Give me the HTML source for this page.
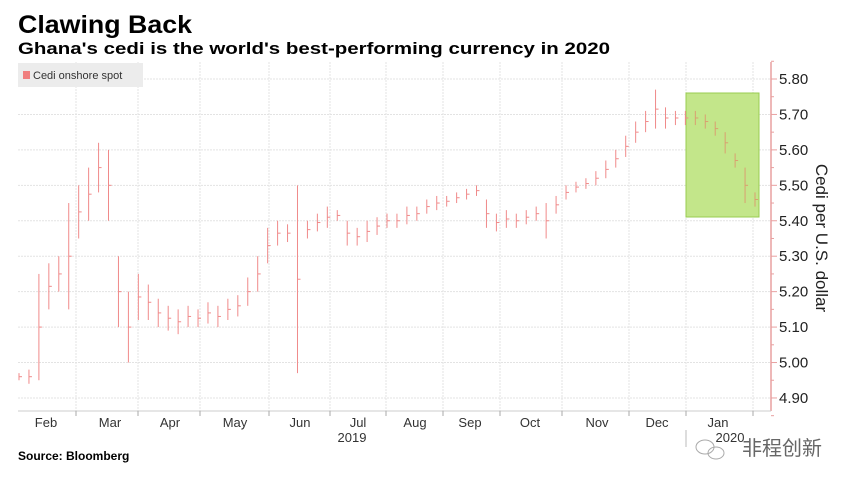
<!DOCTYPE html>
<html><head><meta charset="utf-8"><style>
body{margin:0;background:#fff;width:849px;height:485px;overflow:hidden;font-family:"Liberation Sans","Noto Sans CJK SC",sans-serif}
</style></head><body>
<svg width="849" height="485" xmlns="http://www.w3.org/2000/svg">
<text x="18" y="33" font-size="25" font-weight="bold" fill="#000" textLength="174" lengthAdjust="spacingAndGlyphs">Clawing Back</text>
<text x="18" y="54" font-size="17" font-weight="bold" fill="#000" textLength="592" lengthAdjust="spacingAndGlyphs">Ghana's cedi is the world's best-performing currency in 2020</text>
<g id="grid"></g>
<rect x="686" y="93" width="73" height="124" fill="#c3e68a" stroke="#98cc50"/>
<g id="bars"></g>
<rect x="18" y="63" width="125" height="24" fill="#ececec"/>
<rect x="23" y="71" width="7" height="8" fill="#f07f7f"/>
<text x="33" y="79" font-size="11" fill="#333">Cedi onshore spot</text>
<line x1="771" y1="62" x2="771" y2="411" stroke="#e8a0a0" stroke-width="1.5"/>
<g id="yax"></g>
<line x1="18" y1="411" x2="771" y2="411" stroke="#ccc"/>
<g id="xax"></g>
<text x="352" y="442" font-size="13" fill="#333" text-anchor="middle">2019</text>
<text x="730" y="442" font-size="13" fill="#333" text-anchor="middle">2020</text>
<line x1="686" y1="430" x2="686" y2="447" stroke="#bbb"/>
<text transform="translate(816,238) rotate(90)" font-size="17" fill="#222" text-anchor="middle">Cedi per U.S. dollar</text>
<text x="18" y="460" font-size="12" font-weight="bold" fill="#000">Source: Bloomberg</text>
<g><ellipse cx="705" cy="447" rx="9" ry="7" fill="none" stroke="#aaa"/><ellipse cx="716" cy="453" rx="8" ry="6" fill="none" stroke="#aaa"/>
<text x="742" y="455" font-size="20" fill="#666">非程创新</text></g>
</svg>
<script>
const yTicks=[4.90,5.00,5.10,5.20,5.30,5.40,5.50,5.60,5.70,5.80];
const months=["Feb","Mar","Apr","May","Jun","Jul","Aug","Sep","Oct","Nov","Dec","Jan"];
const monthLabelX=[46,110,170,235,300,358,415,470,530,597,657,718];
const monthGridX=[76,138,200,269,330,386,443,500,562,629,686,753];
const lows=[4.95,4.94,4.95,5.15,5.20,5.15,5.35,5.40,5.48,5.40,5.10,5.00,5.12,5.12,5.10,5.09,5.08,5.10,5.10,5.11,5.10,5.12,5.13,5.16,5.20,5.28,5.33,5.34,4.97,5.35,5.37,5.38,5.40,5.33,5.33,5.34,5.36,5.38,5.38,5.39,5.40,5.42,5.43,5.44,5.45,5.46,5.47,5.38,5.37,5.38,5.38,5.39,5.40,5.35,5.42,5.46,5.48,5.49,5.50,5.52,5.55,5.58,5.62,5.65,5.66,5.66,5.67,5.67,5.67,5.66,5.64,5.59,5.55,5.45,5.44];
const highs=[4.97,4.98,5.25,5.28,5.30,5.45,5.50,5.55,5.62,5.60,5.30,5.20,5.25,5.22,5.18,5.16,5.15,5.16,5.15,5.17,5.16,5.18,5.19,5.24,5.30,5.38,5.40,5.39,5.50,5.40,5.42,5.44,5.43,5.40,5.38,5.40,5.41,5.42,5.42,5.44,5.44,5.46,5.47,5.47,5.48,5.49,5.50,5.46,5.42,5.43,5.42,5.43,5.44,5.45,5.47,5.50,5.51,5.52,5.54,5.57,5.60,5.64,5.68,5.71,5.77,5.72,5.71,5.71,5.71,5.70,5.68,5.65,5.59,5.55,5.48];
const NS="http://www.w3.org/2000/svg";
const y=v=>79+(5.80-v)*354.4;
const x=i=>19+i*(736/(lows.length-1));
function mk(p,t,a){const e=document.createElementNS(NS,t);for(const k in a)e.setAttribute(k,a[k]);document.getElementById(p).appendChild(e);return e;}
yTicks.forEach(v=>{
 const g=mk("grid","line",{x1:18,x2:771,y1:y(v),y2:y(v),stroke:"#e3e3e3","stroke-dasharray":"2,1"});
 
 
 const tk=mk("yax","line",{x1:771,x2:777,y1:y(v),y2:y(v),stroke:"#e8a0a0"});
 
 
 const t=mk("yax","text",{x:779,y:y(v)+5,"font-size":15,fill:"#222"});t.textContent=v.toFixed(2);
 
 
});
for(let v=4.85;v<5.85;v+=0.1){const m=mk("yax","line",{x1:771,x2:774,y1:y(v),y2:y(v),stroke:"#e8a0a0"});
 
 }
monthGridX.forEach(gx=>{
 const g=mk("grid","line",{x1:gx,x2:gx,y1:62,y2:411,stroke:"#e3e3e3","stroke-dasharray":"2,1"});
 
 
 const tk=mk("xax","line",{x1:gx,x2:gx,y1:411,y2:416,stroke:"#aaa"});
 
 
});
months.forEach((m,i)=>{const t=mk("xax","text",{x:monthLabelX[i],y:427,"font-size":13,fill:"#333","text-anchor":"middle"});t.textContent=m;
 
 });
lows.forEach((lo,i)=>{
 const hi=highs[i],bx=x(i),c=x(i)>686?"#d9a070":"#f08a8a";
 const b=mk("bars","line",{x1:bx,x2:bx,y1:y(hi),y2:y(lo),stroke:c,"stroke-width":1});
 
 
 const mid=(lo+hi)/2;
 const tk=mk("bars","line",{x1:bx,x2:bx+3,y1:y(mid),y2:y(mid),stroke:c});
 
 
});
</script>
</body></html>
